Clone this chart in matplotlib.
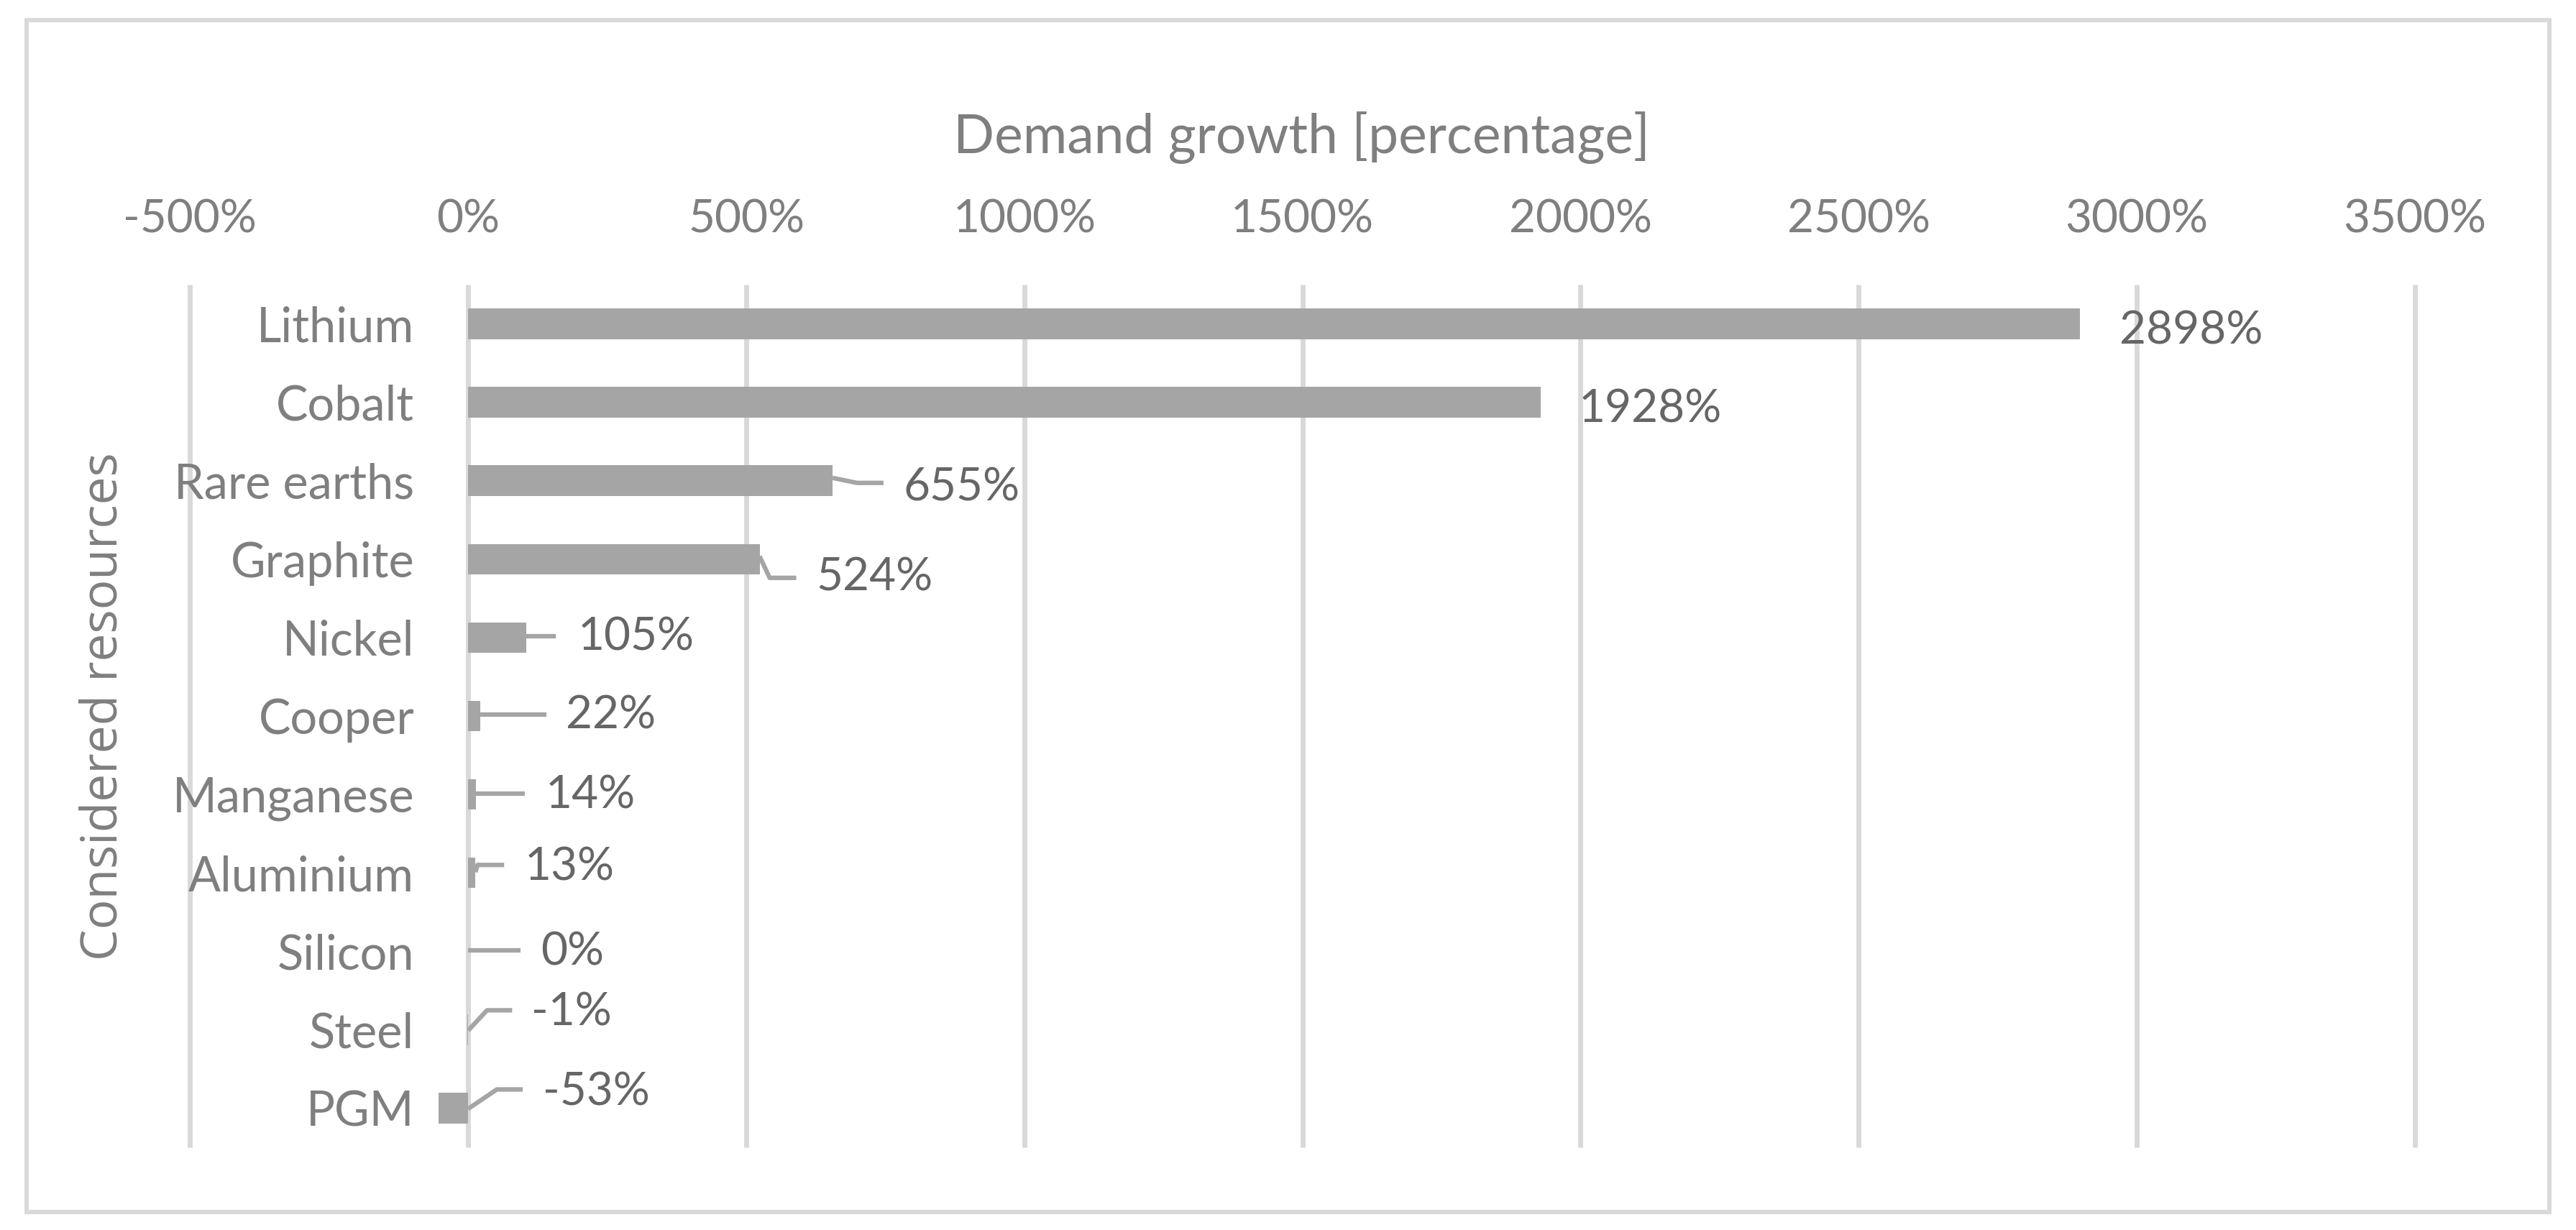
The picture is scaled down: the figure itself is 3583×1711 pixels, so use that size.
import numpy as np
import matplotlib.pyplot as plt
from matplotlib.patches import Rectangle

plt.rcParams['font.family'] = ['Lato', 'DejaVu Sans']

# -- Data --
resources = ["Lithium", "Cobalt", "Rare earths", "Graphite", "Nickel", "Cooper",
             "Manganese", "Aluminium", "Silicon", "Steel", "PGM"]
growth = [2898, 1928, 655, 524, 105, 22, 14, 13, 0, -1, -53]
x_ticks = [-500, 0, 500, 1000, 1500, 2000, 2500, 3000, 3500]
x_ticklabels = [f"{t}%" for t in x_ticks]

# label offsets from bar end (pixels, y down) and leader line bends
label_offsets = [(55, 10), (53, 10), (99, 10), (79, 26), (71, 0), (119, 0),
                 (97, 1), (69, -8), (101, 1), (89, -24), (145, -22)]
leaders = [None, None,
           [(0, -4), (34, 3), (71, 3)],
           [(0, -4), (14, 26), (51, 26)],
           [(0, -2), (41, -2)],
           [(0, -2), (92, -2)],
           [(0, -1), (68, -1)],
           [(0, -1), (3, -11), (40, -11)],
           [(0, -1), (73, -1)],
           [(1, 1), (27, -27), (62, -27)],
           [(41, 1), (81, -26), (117, -26)]]

# -- Plot --
W, H = 3583, 1711
fig = plt.figure(figsize=(W / 100, H / 100), dpi=100)
ax = fig.add_axes([264.3 / W, 1 - 1596 / H, (3359 - 264.3) / W, (1596 - 396) / H])

pos = np.arange(len(resources))
ax.vlines(x_ticks, -0.5, len(resources) - 0.5, color="#d9d9d9", lw=5,
          zorder=0, clip_on=False)
ax.barh(pos, growth, height=0.39, color="#a5a5a5", zorder=2)

ax.set_xlim(-500, 3500)
ax.set_ylim(len(resources) - 0.5, -0.5)

ax.xaxis.tick_top()
ax.set_xticks(x_ticks)
ax.set_xticklabels(x_ticklabels)
ax.tick_params(axis="x", length=0, pad=44, labelsize=46, labelcolor="#7f7f7f")

ax.spines["left"].set_position(("data", 0))
for s in ax.spines.values():
    s.set_visible(False)
ax.set_yticks(pos)
ax.set_yticklabels(resources)
ax.tick_params(axis="y", length=0, pad=54, labelsize=48, labelcolor="#7f7f7f")

# data labels with leader lines
for i, v in enumerate(growth):
    dx, dy = label_offsets[i]
    ax.annotate(f"{v}%", xy=(v, i), xytext=(dx * 0.72, -dy * 0.72),
                textcoords="offset points", ha="left", va="center",
                fontsize=46, color="#666666", zorder=4)
    if leaders[i] is not None:
        x0, y0 = ax.transData.transform((v, i))
        pts = [(x0 + px, y0 - py) for px, py in leaders[i]]
        pts = ax.transData.inverted().transform(pts)
        ax.plot(pts[:, 0], pts[:, 1], color="#a5a5a5", lw=4.5, zorder=3,
                clip_on=False, solid_capstyle="butt")

fig.text(1811 / W, 1 - 192 / H, "Demand growth [percentage]", ha="center",
         va="center", fontsize=54, color="#7f7f7f")
fig.text(145 / W, 1 - 983 / H, "Considered resources", rotation=90,
         ha="center", va="center", fontsize=50, color="#7f7f7f",
         family=["Open Sans", "DejaVu Sans"])

fig.patches.append(Rectangle((37 / W, 1 - 1686 / H), (3546 - 37) / W,
                             (1686 - 28) / H, transform=fig.transFigure,
                             fill=False, ec="#d9d9d9", lw=4.3))

fig.savefig("out.png", dpi=100, facecolor="white")
